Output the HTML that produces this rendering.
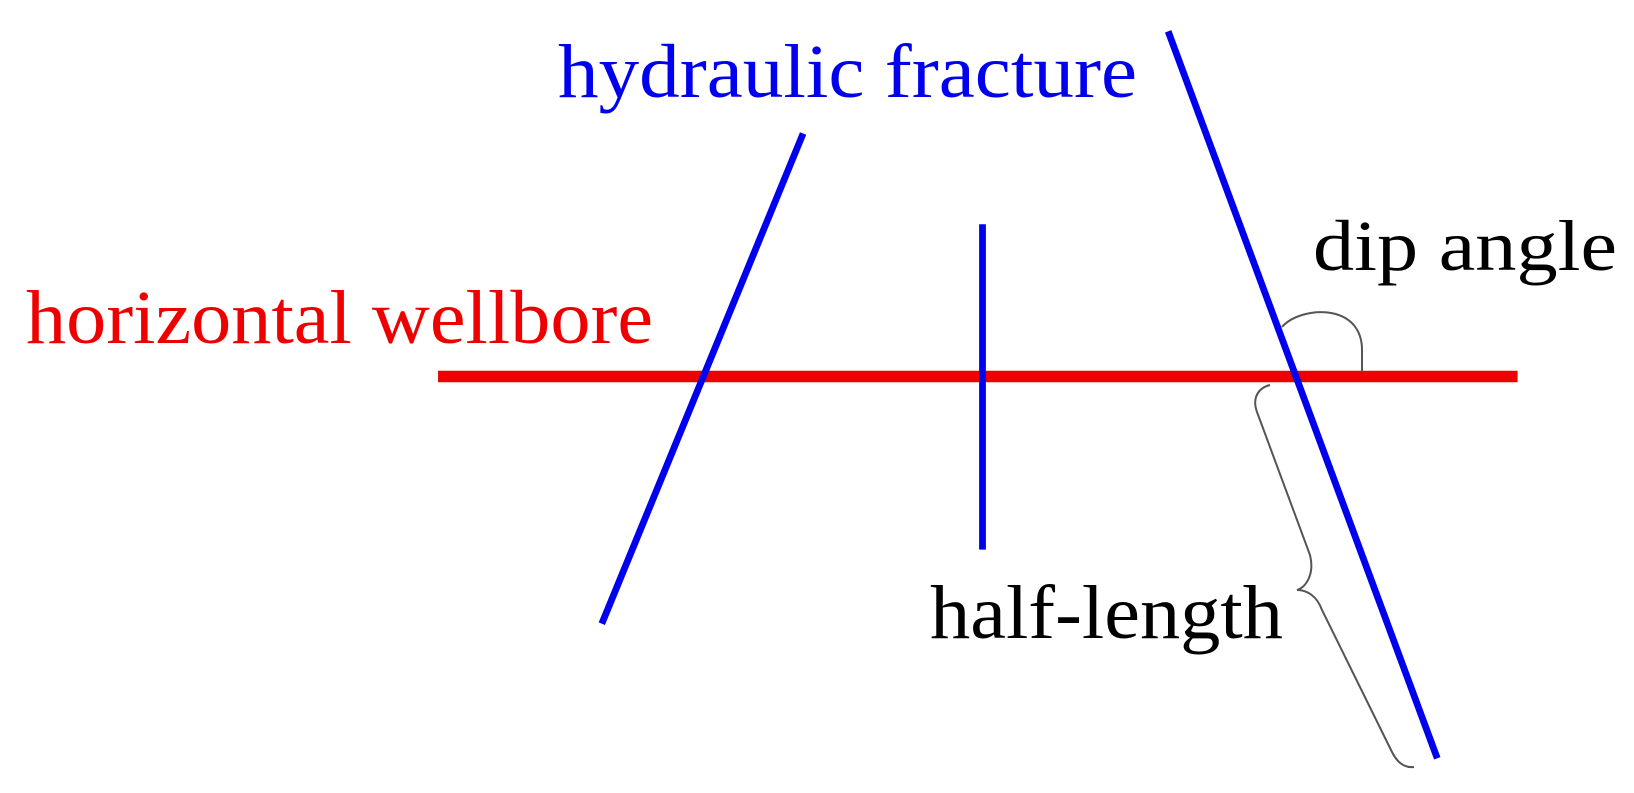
<!DOCTYPE html>
<html><head><meta charset="utf-8"><style>html,body{margin:0;padding:0;background:#fff}svg{display:block}</style></head>
<body>
<svg width="1634" height="793" viewBox="0 0 1634 793" xmlns="http://www.w3.org/2000/svg" font-family="'Liberation Serif', serif">
<g transform="scale(1.043)">
<line x1="420" y1="361" x2="1455" y2="361" stroke="#ee0000" stroke-width="11"/>
<line x1="770" y1="128" x2="577" y2="598" stroke="#0000ee" stroke-width="6.5"/>
<line x1="942" y1="215" x2="942" y2="527" stroke="#0000ee" stroke-width="6.5"/>
<line x1="1120" y1="30" x2="1378" y2="727" stroke="#0000ee" stroke-width="6.5"/>
</g>
<text x="558" y="97" font-size="76" fill="#0000ee" textLength="579" lengthAdjust="spacingAndGlyphs">hydraulic fracture</text>
<text x="26" y="343" font-size="76" fill="#ee0000" textLength="627" lengthAdjust="spacingAndGlyphs">horizontal wellbore</text>
<text x="1313" y="270" font-size="72" fill="#000" textLength="304" lengthAdjust="spacingAndGlyphs">dip angle</text>
<text x="930" y="638" font-size="76" fill="#000" textLength="353" lengthAdjust="spacingAndGlyphs">half-length</text>
<path d="M1282 327 C1300 306 1362 302 1362 350 L1362 372" fill="none" stroke="#555" stroke-width="2"/>
<path d="M1270 385 C1258 388 1252 398 1257 412 L1310 555 C1315 575 1305 588 1297 590 C1307 590 1317 596 1322 610 L1392 752 C1398 764 1406 768 1414 767" fill="none" stroke="#555" stroke-width="2"/>
</svg>
</body></html>
